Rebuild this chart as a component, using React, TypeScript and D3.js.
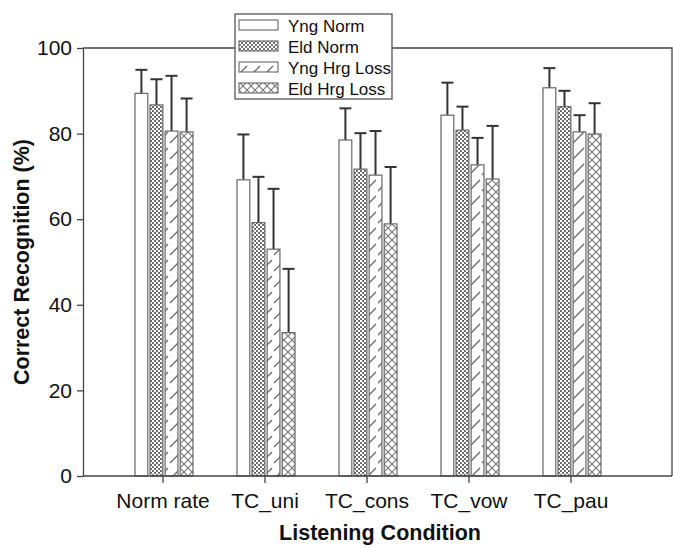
import React, { useEffect, useRef } from 'react';
import * as d3 from 'd3';

// listening conditions on the x axis
const categories = ["Norm rate", "TC_uni", "TC_cons", "TC_vow", "TC_pau"];
const series = ["Yng Norm", "Eld Norm", "Yng Hrg Loss", "Eld Hrg Loss"];

// mean correct recognition (%)
const yngNorm = [89.4, 69.2, 78.5, 84.3, 90.7];
const eldNorm = [86.7, 59.2, 71.7, 80.8, 86.3];
const yngHrgLoss = [80.6, 53.0, 70.3, 72.7, 80.4];
const eldHrgLoss = [80.4, 33.5, 58.9, 69.4, 79.9];

// upper error bars (SD)
const yngNormErr = [5.5, 10.6, 7.4, 7.6, 4.6];
const eldNormErr = [6.0, 10.7, 8.4, 5.5, 3.7];
const yngHrgLossErr = [12.9, 14.1, 10.3, 6.3, 3.9];
const eldHrgLossErr = [7.8, 14.9, 13.3, 12.4, 7.2];

const yTicks = [0, 20, 40, 60, 80, 100];

const means = [yngNorm, eldNorm, yngHrgLoss, eldHrgLoss];
const errs = [yngNormErr, eldNormErr, yngHrgLossErr, eldHrgLossErr];
const fills = ["#ffffff", "url(#pEldNorm)", "url(#pYngHL)", "url(#pEldHL)"];

const font = "Liberation Sans, Arial, sans-serif";

const App = () => {
    const ref = useRef<SVGSVGElement>(null);

    useEffect(() => {
        const svg = d3.select(ref.current);
        svg.selectAll("*").remove();

        const width = 673, height = 548;
        const left = 83, right = 672, top = 48, bottom = 476;

        // patterns
        const defs = svg.append("defs");
        const p1 = defs.append("pattern").attr("id", "pEldNorm")
            .attr("patternUnits", "userSpaceOnUse").attr("width", 4).attr("height", 4);
        p1.append("rect").attr("width", 4).attr("height", 4).attr("fill", "#5a5a5a");
        p1.append("circle").attr("cx", 1).attr("cy", 1).attr("r", 1.3).attr("fill", "#fff");
        p1.append("circle").attr("cx", 3).attr("cy", 3).attr("r", 1.3).attr("fill", "#fff");

        const p2 = defs.append("pattern").attr("id", "pYngHL")
            .attr("patternUnits", "userSpaceOnUse").attr("width", 13).attr("height", 16);
        p2.append("rect").attr("width", 13).attr("height", 16).attr("fill", "#fff");
        p2.append("line").attr("x1", 1).attr("y1", 15).attr("x2", 12).attr("y2", 4)
            .attr("stroke", "#666").attr("stroke-width", 1.2);

        const p3 = defs.append("pattern").attr("id", "pEldHL")
            .attr("patternUnits", "userSpaceOnUse").attr("width", 8).attr("height", 8);
        p3.append("rect").attr("width", 8).attr("height", 8).attr("fill", "#fff");
        p3.append("path").attr("d", "M0,0L8,8M8,0L0,8")
            .attr("stroke", "#777").attr("stroke-width", 1.1).attr("fill", "none");

        svg.append("rect").attr("width", width).attr("height", height).attr("fill", "#fff");

        const x = d3.scaleBand().domain(categories).range([112, 622]).padding(0);
        const x1 = d3.scaleBand().domain(series).range([-28, 30]).paddingInner(0.15);
        const y = d3.scaleLinear().domain([0, 100]).range([bottom, top]);

        // frame
        svg.append("path")
            .attr("d", `M${left},${top}H${right}V${bottom}`)
            .attr("fill", "none").attr("stroke", "#444").attr("stroke-width", 1.3);

        // bars + error bars
        series.forEach((s, si) => {
            const g = svg.append("g");
            categories.forEach((c, ci) => {
                const bx = (x(c) ?? 0) + x.bandwidth() / 2 + (x1(s) ?? 0);
                const bw = x1.bandwidth();
                const v = means[si][ci];
                const e = errs[si][ci];
                const cx = bx + bw / 2;
                g.append("line").attr("x1", cx).attr("x2", cx)
                    .attr("y1", y(v)).attr("y2", y(v + e))
                    .attr("stroke", "#333").attr("stroke-width", 2);
                g.append("line").attr("x1", cx - 6).attr("x2", cx + 6)
                    .attr("y1", y(v + e)).attr("y2", y(v + e))
                    .attr("stroke", "#333").attr("stroke-width", 2);
                g.append("rect")
                    .attr("x", bx).attr("y", y(v))
                    .attr("width", bw).attr("height", bottom - y(v))
                    .attr("fill", fills[si])
                    .attr("stroke", "#666").attr("stroke-width", 1.2);
            });
        });

        // y axis
        const yAxis = svg.append("g")
            .attr("transform", `translate(${left},0)`)
            .call(d3.axisLeft(y).tickValues(yTicks).tickSize(6).tickSizeOuter(0).tickPadding(5));
        yAxis.select(".domain").attr("stroke", "#444").attr("stroke-width", 1.3);
        yAxis.selectAll(".tick line").attr("stroke", "#444").attr("stroke-width", 1.3);
        yAxis.selectAll("text").attr("font-family", font)
            .attr("font-size", 21).attr("fill", "#111");

        // x axis
        svg.append("line").attr("x1", left).attr("x2", right).attr("y1", bottom).attr("y2", bottom)
            .attr("stroke", "#444").attr("stroke-width", 1.3);
        const xAxis = svg.append("g")
            .attr("transform", `translate(0,${bottom})`)
            .call(d3.axisBottom(x).tickSize(7).tickSizeOuter(0).tickPadding(10));
        xAxis.select(".domain").remove();
        xAxis.selectAll(".tick line").attr("stroke", "#444").attr("stroke-width", 1.3);
        xAxis.selectAll("text").attr("font-family", font)
            .attr("font-size", 21).attr("fill", "#111");

        // axis titles
        svg.append("text")
            .attr("x", 380).attr("y", 540)
            .attr("text-anchor", "middle")
            .attr("font-family", font)
            .attr("font-size", 21.5).attr("font-weight", "bold").attr("fill", "#111")
            .text("Listening Condition");
        svg.append("text")
            .attr("transform", `translate(29,${(top + bottom) / 2}) rotate(-90)`)
            .attr("text-anchor", "middle")
            .attr("font-family", font)
            .attr("font-size", 21.5).attr("font-weight", "bold").attr("fill", "#111")
            .text("Correct Recognition (%)");

        // legend
        const lg = svg.append("g").attr("transform", "translate(235,14)");
        lg.append("rect").attr("width", 157).attr("height", 85)
            .attr("fill", "#fff").attr("stroke", "#555").attr("stroke-width", 1.3);
        series.forEach((s, i) => {
            const ry = 6 + i * 21;
            lg.append("rect").attr("x", 4).attr("y", ry).attr("width", 39).attr("height", 10)
                .attr("fill", fills[i]).attr("stroke", "#666").attr("stroke-width", 1.1);
            lg.append("text").attr("x", 53).attr("y", ry + 11.5)
                .attr("font-family", font)
                .attr("font-size", 17).attr("fill", "#111")
                .text(s);
        });
    }, []);

    return (
        <svg ref={ref} width={673} height={548}
            style={{ position: "absolute", left: 0, top: 0, display: "block" }} />
    );
};

export default App;
